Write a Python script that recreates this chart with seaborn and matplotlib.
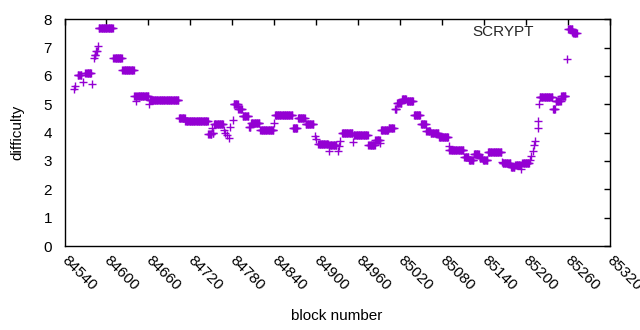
import numpy as np
import pandas as pd
import matplotlib
matplotlib.use("Agg")
import matplotlib.pyplot as plt
import seaborn as sns

# Runs of consecutive blocks sharing the same difficulty
run_start = [84554, 84555, 84559, 84566, 84570, 84579, 84582, 84583, 84585, 84588,
             84589, 84610, 84623, 84640, 84642, 84643, 84661, 84662, 84704, 84713,
             84746, 84751, 84752, 84754, 84768, 84770, 84773, 84775, 84777, 84781,
             84782, 84789, 84795, 84804, 84807, 84820, 84840, 84841, 84867, 84874,
             84885, 84898, 84900, 84903, 84918, 84919, 84931, 84933, 84935, 84937,
             84953, 84954, 84975, 84985, 84992, 84993, 85004, 85013, 85016, 85023,
             85030, 85040, 85050, 85058, 85064, 85076, 85090, 85091, 85112, 85119,
             85126, 85134, 85139, 85146, 85166, 85167, 85179, 85185, 85194, 85195,
             85206, 85208, 85210, 85212, 85214, 85217, 85218, 85219, 85220, 85239,
             85243, 85251, 85259, 85261, 85268]
run_end = [84554, 84555, 84564, 84566, 84578, 84579, 84582, 84584, 84586, 84588,
           84609, 84622, 84639, 84641, 84642, 84660, 84661, 84703, 84712, 84745,
           84750, 84751, 84753, 84767, 84768, 84770, 84773, 84775, 84777, 84781,
           84788, 84794, 84803, 84806, 84819, 84839, 84840, 84866, 84873, 84884,
           84896, 84898, 84900, 84917, 84918, 84929, 84931, 84933, 84935, 84952,
           84953, 84974, 84984, 84991, 84992, 85003, 85011, 85015, 85022, 85029,
           85039, 85049, 85057, 85063, 85075, 85089, 85090, 85111, 85118, 85125,
           85133, 85138, 85145, 85165, 85166, 85178, 85184, 85193, 85194, 85205,
           85206, 85208, 85210, 85212, 85214, 85217, 85218, 85219, 85238, 85242,
           85250, 85257, 85259, 85267, 85273]
run_value = [5.55, 5.65, 6.05, 5.77, 6.10, 5.73, 6.65, 6.75, 6.88, 7.05,
             7.70, 6.63, 6.20, 5.30, 5.10, 5.30, 5.00, 5.15, 4.53, 4.42,
             3.97, 4.17, 4.00, 4.32, 4.10, 4.00, 3.90, 3.82, 4.20, 4.45,
             5.02, 4.83, 4.58, 4.20, 4.35, 4.10, 4.35, 4.63, 4.17, 4.52,
             4.30, 3.88, 3.76, 3.60, 3.35, 3.55, 3.35, 3.52, 3.70, 4.00,
             3.67, 3.92, 3.55, 3.75, 3.64, 4.08, 4.15, 4.85, 5.05, 5.20,
             5.10, 4.62, 4.30, 4.05, 4.00, 3.85, 3.52, 3.38, 3.15, 3.02,
             3.23, 3.10, 3.03, 3.30, 2.96, 2.93, 2.80, 2.85, 2.70, 2.92,
             3.05, 3.17, 3.35, 3.58, 3.70, 4.17, 4.40, 5.00, 5.25, 4.85,
             5.10, 5.30, 6.60, 7.65, 7.50]

x_ticks = [84540, 84600, 84660, 84720, 84780, 84840, 84900, 84960,
           85020, 85080, 85140, 85200, 85260, 85320]
y_ticks = [0, 1, 2, 3, 4, 5, 6, 7, 8]

blocks = np.concatenate([np.arange(s, e + 1) for s, e in zip(run_start, run_end)])
values = np.repeat(run_value, [e - s + 1 for s, e in zip(run_start, run_end)])
df = pd.DataFrame({"block number": blocks, "difficulty": values})

sns.set_theme(style="white")
plt.rcParams["font.family"] = ["Liberation Sans", "DejaVu Sans"]

fig = plt.figure(figsize=(6.4, 3.3), dpi=100)
ax = fig.add_axes([64.5 / 640, 1 - 246 / 330, 545 / 640, 226.7 / 330])

color = "#9400D3"
sns.scatterplot(data=df, x="block number", y="difficulty", marker="+",
                color=color, s=30, linewidth=1.0, ax=ax, label="SCRYPT",
                legend=False)

ax.set_xlim(84540, 85320)
ax.set_ylim(0, 8)
ax.set_xticks(x_ticks)
ax.set_yticks(y_ticks)
ax.set_xticklabels([str(t) for t in x_ticks], rotation=-45, ha="left",
                   va="center", rotation_mode="anchor", fontsize=11)
ax.set_yticklabels([str(t) for t in y_ticks], fontsize=11)
ax.tick_params(axis="both", direction="in", length=4, width=1, color="black",
               top=True, right=True, labelcolor="black")
ax.tick_params(axis="x", pad=9)
ax.tick_params(axis="y", pad=9)
for sp in ax.spines.values():
    sp.set_visible(True)
    sp.set_color("black")
    sp.set_linewidth(1)
ax.grid(False)
ax.set_facecolor("white")

ax.set_xlabel("block number", fontsize=11, color="black")
ax.set_ylabel("difficulty", fontsize=11, color="black")
ax.xaxis.set_label_coords(0.5, -0.278)
ax.yaxis.set_label_coords(-0.074, 0.5)

handles, labels = ax.get_legend_handles_labels()
fig.legend(handles, labels, loc="center right",
           bbox_to_anchor=(587 / 640, 1 - 32 / 330), bbox_transform=fig.transFigure,
           frameon=False, markerfirst=False, fontsize=11, handletextpad=1.5,
           handlelength=2.0, borderpad=0, borderaxespad=0, scatterpoints=1)

fig.savefig("out.png", dpi=100, facecolor="white")
